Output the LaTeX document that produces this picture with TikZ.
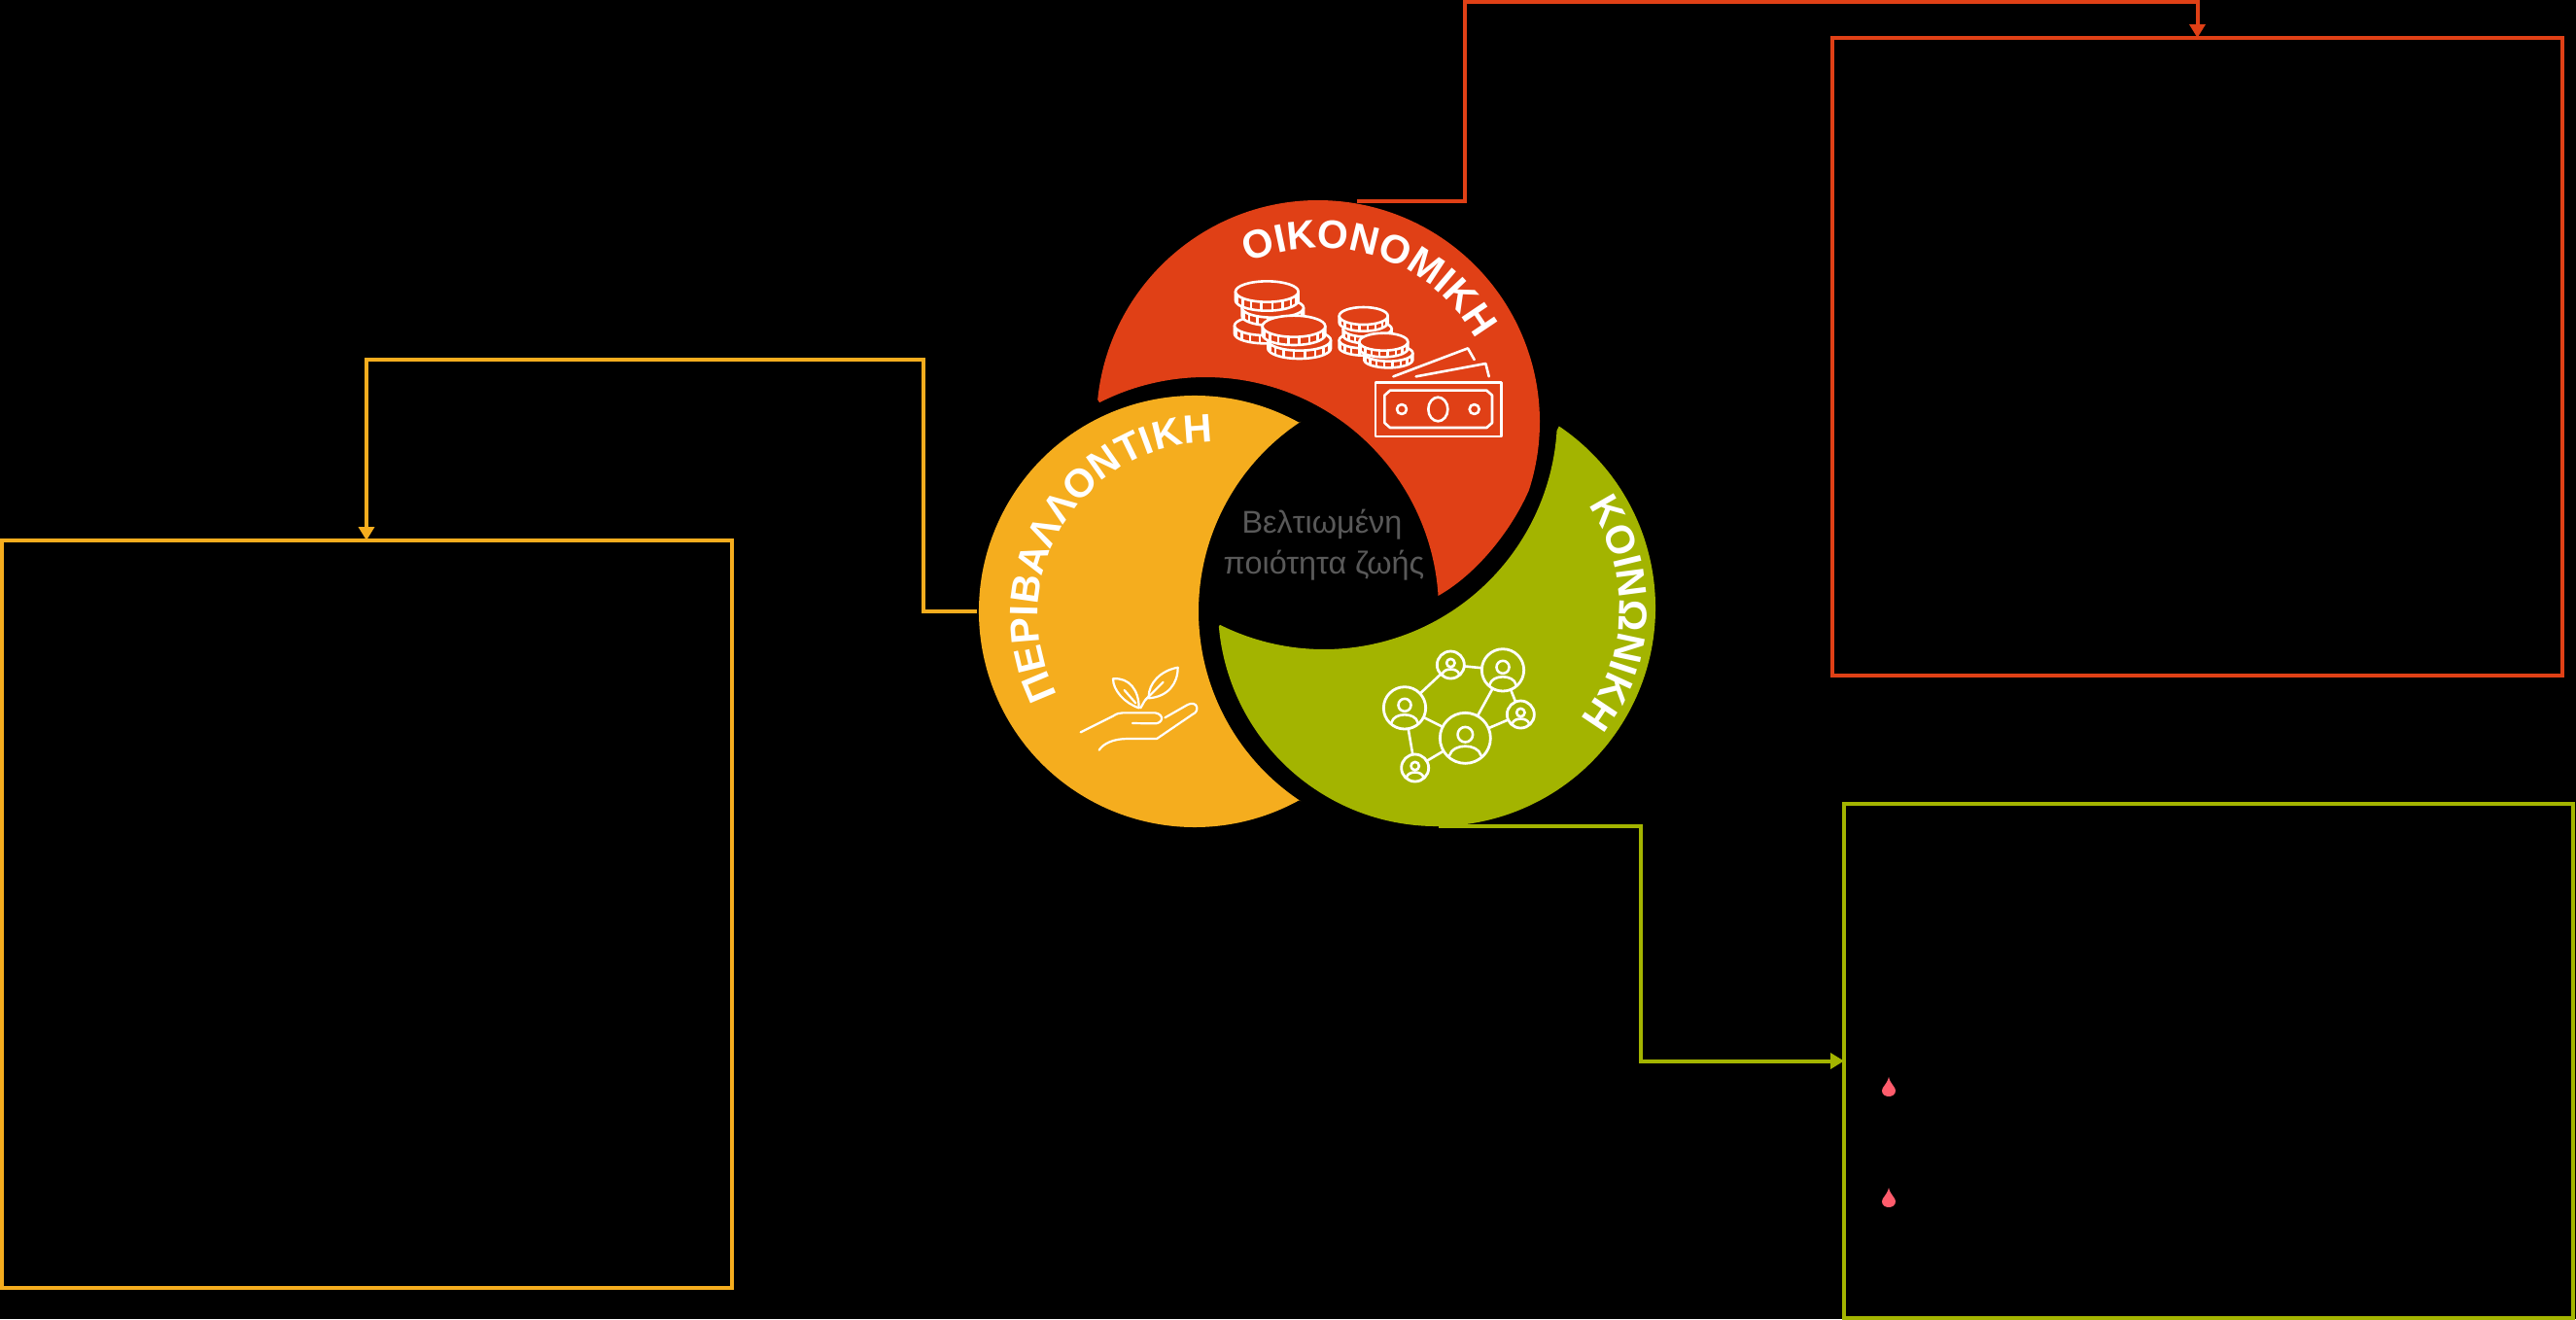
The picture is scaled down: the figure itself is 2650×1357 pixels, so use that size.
\documentclass[tikz,border=0pt]{standalone}
\usepackage{fontspec}
\setmainfont{Liberation Sans}
\newfontfamily\lblfont{Liberation Sans}
\usetikzlibrary{arrows.meta,decorations.text,calc}
\definecolor{ecoRed}{HTML}{E04016}
\definecolor{envYel}{HTML}{F5AD1E}
\definecolor{socGrn}{HTML}{A3B400}
\definecolor{midGray}{HTML}{595959}
\definecolor{dropRed}{HTML}{FF5C6C}
\tikzset{
  boxframe/.style={draw=#1,line width=2pt,minimum width=0pt,inner sep=0pt,outer sep=0pt,fill=none,rectangle},
  link/.style={draw=#1,line width=2pt,-{Triangle[length=7pt,width=8pt]}},
  icon/.style={draw=white,line width=1.3pt,line cap=round,line join=round},
  thinicon/.style={draw=white,line width=1.1pt,line cap=round,line join=round},
  pcirc/.style={circle,draw=white,line width=1.4pt,inner sep=0pt,outer sep=0pt},
  midtext/.style={text=midGray,font=\fontsize{16.2}{18}\selectfont,inner sep=0pt}
}
\newcommand{\coinpic}[5]{%
  \fill[ecoRed] ({#1-#3},#2) -- ({#1-#3},{#2+#5}) -- plot[domain=180:0,samples=25] ({#1+#3*cos(\x)},{#2+#5+#4*sin(\x)}) -- ({#1+#3},#2) -- cycle;
  \draw[icon] ({#1-#3},#2) -- ({#1-#3},{#2+#5}) -- plot[domain=180:0,samples=25] ({#1+#3*cos(\x)},{#2+#5+#4*sin(\x)}) -- ({#1+#3},#2);
  \fill[ecoRed,draw=white,line width=1.3pt] (#1,#2) ellipse [x radius=#3,y radius=#4];
  \foreach \t in {20,40,...,160}{\draw[white,line width=1.3pt] ({#1+#3*cos(\t)},{#2+#4*sin(\t)+2}) -- ({#1+#3*cos(\t)},{#2+#5+#4*sin(\t)-2});}
}
\newcommand{\personpic}[3]{%
  \draw[icon] (#1,{#2-0.14*#3}) circle [radius={0.3*#3}];
  \draw[icon] ({#1-0.62*#3},{#2+0.68*#3}) .. controls ({#1-0.5*#3},{#2+0.2*#3}) and ({#1+0.5*#3},{#2+0.2*#3}) .. ({#1+0.62*#3},{#2+0.68*#3});
}
\begin{document}
\begin{tikzpicture}[x=0.5pt,y=-0.5pt]
\fill[black] (0,0) rectangle (2650,1357);
\useasboundingbox (0,0) rectangle (2650,1357);

% frames
\node[boxframe=envYel,minimum width=375.5pt,minimum height=384.5pt] (envBox) at (377,940.5) {};
\node[boxframe=ecoRed,minimum width=375.5pt,minimum height=328pt] (ecoBox) at (2260.5,367) {};
\node[boxframe=socGrn,minimum width=375pt,minimum height=264.5pt] (socBox) at (2272,1091.5) {};

% crescents: outer arc, then inner arc
\fill[ecoRed] ($(1356,434)+(174.2:114pt)$) arc[start angle=174.2,end angle=-18,radius=114pt]
  .. controls (1555,545) and (1520,590) .. ($(1240,628)+(3.6:120pt)$) arc[start angle=3.6,end angle=117,radius=120pt] -- cycle;
\fill[envYel] ($(1229,629)+(61:111pt)$) arc[start angle=61,end angle=299,radius=111pt]
  -- ($(1467,629)+(236.6:117pt)$) arc[start angle=236.6,end angle=123.4,radius=117pt] -- cycle;
\fill[socGrn] ($(1478,625)+(56:112.5pt)$) arc[start angle=56,end angle=-175,radius=112.5pt]
  -- ($(1362,428)+(243.5:120pt)$) arc[start angle=243.5,end angle=356.4,radius=120pt] -- cycle;

% connector anchors
\coordinate (ecoStart) at (1396,207);
\coordinate (ecoKneeA) at (1507,207);
\coordinate (ecoKneeB) at (1507,2);
\coordinate (socStart) at (1480,850);
\coordinate (socKneeA) at (1688,850);
\coordinate (envStart) at (1005,629);
\coordinate (envKneeA) at (950,629);
\coordinate (envKneeB) at (950,370);
\draw[link=ecoRed] (ecoStart) -- (ecoKneeA) -- (ecoKneeB) -| (ecoBox.north);
\draw[link=socGrn] (socStart) -- (socKneeA) |- (socBox.west);
\draw[link=envYel] (envStart) -- (envKneeA) -- (envKneeB) -| (envBox.north);

% curved titles
\path[decorate,decoration={text along path,text align={align=center},text color=white,
  text={|\lblfont\bfseries\fontsize{20.5}{24}\selectfont|ΟΙΚΟΝΟΜΙΚΗ}}]
  ($(1358,439)+(125:92pt)$) arc[start angle=125,end angle=18,radius=92pt];
\path[decorate,decoration={text along path,text align={align=center},text color=white,
  text={|\lblfont\bfseries\fontsize{20.5}{24}\selectfont|ΠΕΡΙΒΑΛΛΟΝΤΙΚΗ}}]
  ($(1246,633)+(220:89pt)$) arc[start angle=220,end angle=77,radius=89pt];
\path[decorate,decoration={text along path,text align={align=center},text color=white,
  text={|\lblfont\bfseries\fontsize{20.5}{24}\selectfont|ΚΟΙΝΩΝΙΚΗ}}]
  ($(1480,625)+(50:93pt)$) arc[start angle=50,end angle=-54,radius=93pt];

% centre text
\node[midtext] (midA) at (1360,540) {Βελτιωμένη};
\node[midtext] (midB) at (1362,582) {ποιότητα ζωής};

% coins and notes
\begin{scope}[shift={(1230,270)},x=0.16667pt,y=-0.16667pt]
\coinpic{215}{195}{95}{30}{25}
\coinpic{238}{140}{95}{30}{25}
\coinpic{220}{90}{97}{32}{27}
\coinpic{320}{240}{97}{32}{25}
\coinpic{303}{197}{97}{33}{25}
\coinpic{518}{240}{75}{25}{22}
\coinpic{530}{205}{75}{25}{20}
\coinpic{518}{165}{75}{27}{20}
\coinpic{595}{280}{75}{25}{20}
\coinpic{580}{245}{75}{27}{20}
\draw[icon] (610,352) -- (840,265) -- (860,300);
\draw[icon] (680,352) -- (895,312) -- (905,352);
\draw[icon] (555,370) rectangle (943,537);
\draw[icon] (600,395) -- (898,395) -- (915,410) -- (915,495) -- (898,510) -- (600,510) -- (583,495) -- (583,410) -- cycle;
\draw[icon] (748,453) ellipse [x radius=30,y radius=37];
\draw[icon] (636,453) circle [radius=15];
\draw[icon] (860,453) circle [radius=15];
\end{scope}

% hand and sprout
\begin{scope}[shift={(1090,670)},x=0.16667pt,y=-0.16667pt]
\draw[thinicon] (245,175) .. controls (200,160) and (165,120) .. (165,85) .. controls (215,80) and (245,120) .. (245,175);
\draw[thinicon] (250,175) .. controls (262,155) and (262,150) .. (275,140) .. controls (275,100) and (310,60) .. (365,50) .. controls (365,100) and (335,140) .. (275,145);
\draw[thinicon] (200,120) -- (235,160);
\draw[thinicon] (320,95) -- (265,150);
\draw[thinicon] (65,250) -- (165,200) .. controls (175,193) and (185,190) .. (195,190) -- (295,190) .. controls (325,195) and (320,225) .. (290,223) -- (225,222);
\draw[thinicon] (325,205) -- (395,165) .. controls (425,150) and (435,185) .. (410,195) -- (300,270) -- (210,270) .. controls (165,270) and (135,285) .. (122,305);
\end{scope}

% people network
\begin{scope}[shift={(1400,660)},x=0.16667pt,y=-0.16667pt]
\node[pcirc,minimum size=21.67pt] (pA) at (135,205) {};
\node[pcirc,minimum size=14pt] (pB) at (277,72) {};
\node[pcirc,minimum size=21.67pt] (pC) at (438,88) {};
\node[pcirc,minimum size=14pt] (pD) at (493,225) {};
\node[pcirc,minimum size=26pt] (pE) at (322,298) {};
\node[pcirc,minimum size=14pt] (pF) at (167,390) {};
\draw[icon] (pA) -- (pB);
\draw[icon] (pB) -- (pC);
\draw[icon] (pC) -- (pE);
\draw[icon] (pC) -- (pD);
\draw[icon] (pD) -- (pE);
\draw[icon] (pA) -- (pE);
\draw[icon] (pA) -- (pF);
\draw[icon] (pF) -- (pE);
\personpic{135}{205}{65}
\personpic{277}{72}{42}
\personpic{438}{88}{65}
\personpic{493}{225}{42}
\personpic{322}{298}{78}
\personpic{167}{390}{42}
\end{scope}

% droplets
\fill[dropRed] (1943,1108) .. controls (1945,1116) and (1950,1118) .. (1950,1122) .. controls (1950,1130) and (1936,1130) .. (1936,1122) .. controls (1936,1118) and (1941,1116) .. (1943,1108) -- cycle;
\fill[dropRed] (1943,1222) .. controls (1945,1230) and (1950,1232) .. (1950,1236) .. controls (1950,1244) and (1936,1244) .. (1936,1236) .. controls (1936,1232) and (1941,1230) .. (1943,1222) -- cycle;
\end{tikzpicture}
\end{document}
